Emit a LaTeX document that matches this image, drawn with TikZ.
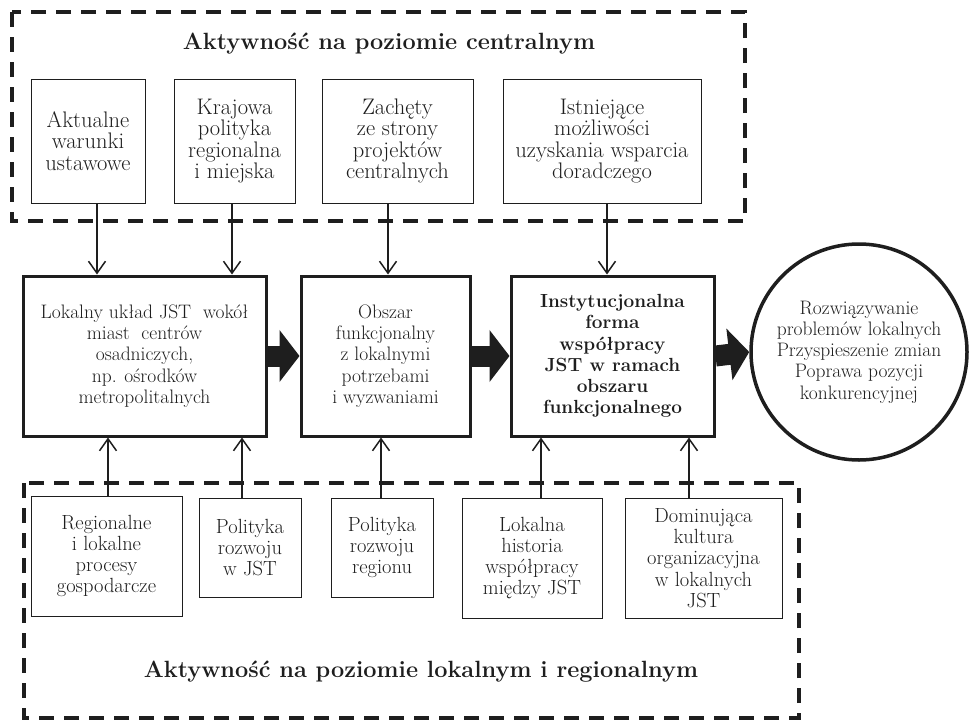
\documentclass[tikz,border=0pt]{standalone}
\usetikzlibrary{arrows.meta,calc}
\definecolor{ink}{HTML}{1E1E1E}
\begin{document}
\begin{tikzpicture}[x=1pt,y=-1pt,
  txt/.style={font=\fontsize{19.5}{21.3}\selectfont, align=center, text=ink},
  toptxt/.style={font=\fontsize{22.5}{21.5}\selectfont},
  bottxt/.style={font=\fontsize{20.5}{21.3}\selectfont},
  smallbox/.style={txt, draw=ink, line width=1pt, fill=white, inner sep=0pt},
  mainbox/.style={txt, draw=ink, line width=3pt, fill=white, inner sep=0pt, minimum height=160pt},
  frame/.style={draw=ink, line width=4pt, dash pattern=on 15pt off 10pt},
  title/.style={font=\fontsize{23.5}{26}\selectfont\bfseries, text=ink},
  thinarrow/.style={draw=ink, line width=1.5pt, -{Straight Barb[length=12pt,width=17pt,line width=1.5pt]}},
  fatarrow/.style={draw=ink, line width=21pt, -{Triangle[length=20pt,width=51pt]}},
]
\useasboundingbox (0,0) rectangle (971,720);

% frames
\draw[frame] (12,12) rectangle (745,221);
\draw[frame] (24,483) rectangle (799,718);

\node[title] (ttop) at (389,44) {Aktywność na poziomie centralnym};
\node[title] (tbot) at (421,672) {Aktywność na poziomie lokalnym i regionalnym};

% top boxes
\node[smallbox, toptxt, minimum width=114pt, minimum height=124pt] (t1) at (88,141) {Aktualne\\warunki\\ustawowe};
\node[smallbox, toptxt, minimum width=121pt, minimum height=124pt] (t2) at (234.5,141) {Krajowa\\polityka\\regionalna\\i miejska};
\node[smallbox, toptxt, minimum width=151pt, minimum height=124pt] (t3) at (397.5,141) {Zachęty\\ze strony\\projektów\\centralnych};
\node[smallbox, toptxt, minimum width=198pt, minimum height=124pt] (t4) at (602,141) {Istniejące\\możliwości\\uzyskania wsparcia\\doradczego};

% main row
\node[mainbox, minimum width=243pt] (m1) at (144.5,356) {Lokalny układ JST~ wokół\\miast~ centrów\\osadniczych,\\np. ośrodków\\metropolitalnych};
\node[mainbox, minimum width=169pt] (m2) at (385.5,356) {Obszar\\funkcjonalny\\z lokalnymi\\potrzebami\\i wyzwaniami};
\node[mainbox, minimum width=203pt, font=\fontsize{19}{21.3}\selectfont\bfseries] (m3) at (612.5,356) {Instytucjonalna\\forma\\współpracy\\JST w ramach\\obszaru\\funkcjonalnego};
\node[txt, circle, draw=ink, line width=3.5pt, fill=white, minimum size=216pt, inner sep=0pt] (c) at (859,352) {Rozwiązywanie\\problemów lokalnych\\Przyspieszenie zmian\\Poprawa pozycji\\konkurencyjnej};

% bottom boxes
\node[smallbox, bottxt, minimum width=151pt, minimum height=120pt] (b1) at (106.5,556) {Regionalne\\i lokalne\\procesy\\gospodarcze};
\node[smallbox, bottxt, minimum width=102pt, minimum height=99pt] (b2) at (250,547.5) {Polityka\\rozwoju\\w JST};
\node[smallbox, bottxt, minimum width=102pt, minimum height=99pt] (b3) at (382,547.5) {Polityka\\rozwoju\\regionu};
\node[smallbox, bottxt, minimum width=140pt, minimum height=120pt] (b4) at (532,558) {Lokalna\\historia\\współpracy\\między JST};
\node[smallbox, bottxt, minimum width=157pt, minimum height=120pt] (b5) at (703.5,558) {Dominująca\\kultura\\organizacyjna\\w lokalnych\\JST};

% arrow x positions
\coordinate (a1) at (97,0);
\coordinate (a2) at (232,0);
\coordinate (a3) at (388,0);
\coordinate (a4) at (607,0);
\coordinate (u1) at (108,0);
\coordinate (u2) at (242,0);
\coordinate (u3) at (381,0);
\coordinate (u4) at (541,0);
\coordinate (u5) at (689,0);

\draw[thinarrow] (t1.south -| a1) -- (m1.north -| a1);
\draw[thinarrow] (t2.south -| a2) -- (m1.north -| a2);
\draw[thinarrow] (t3.south -| a3) -- (m2.north -| a3);
\draw[thinarrow] (t4.south -| a4) -- (m3.north -| a4);

\draw[thinarrow] (b1.north -| u1) -- (m1.south -| u1);
\draw[thinarrow] (b2.north -| u2) -- (m1.south -| u2);
\draw[thinarrow] (b3.north -| u3) -- (m2.south -| u3);
\draw[thinarrow] (b4.north -| u4) -- (m3.south -| u4);
\draw[thinarrow] (b5.north -| u5) -- (m3.south -| u5);

% fat arrows
\draw[fatarrow] (m1.east) -- (m2.west);
\draw[fatarrow] (m2.east) -- (m3.west);
\draw[fatarrow] (m3.east) -- (c.west);
\end{tikzpicture}
\end{document}
